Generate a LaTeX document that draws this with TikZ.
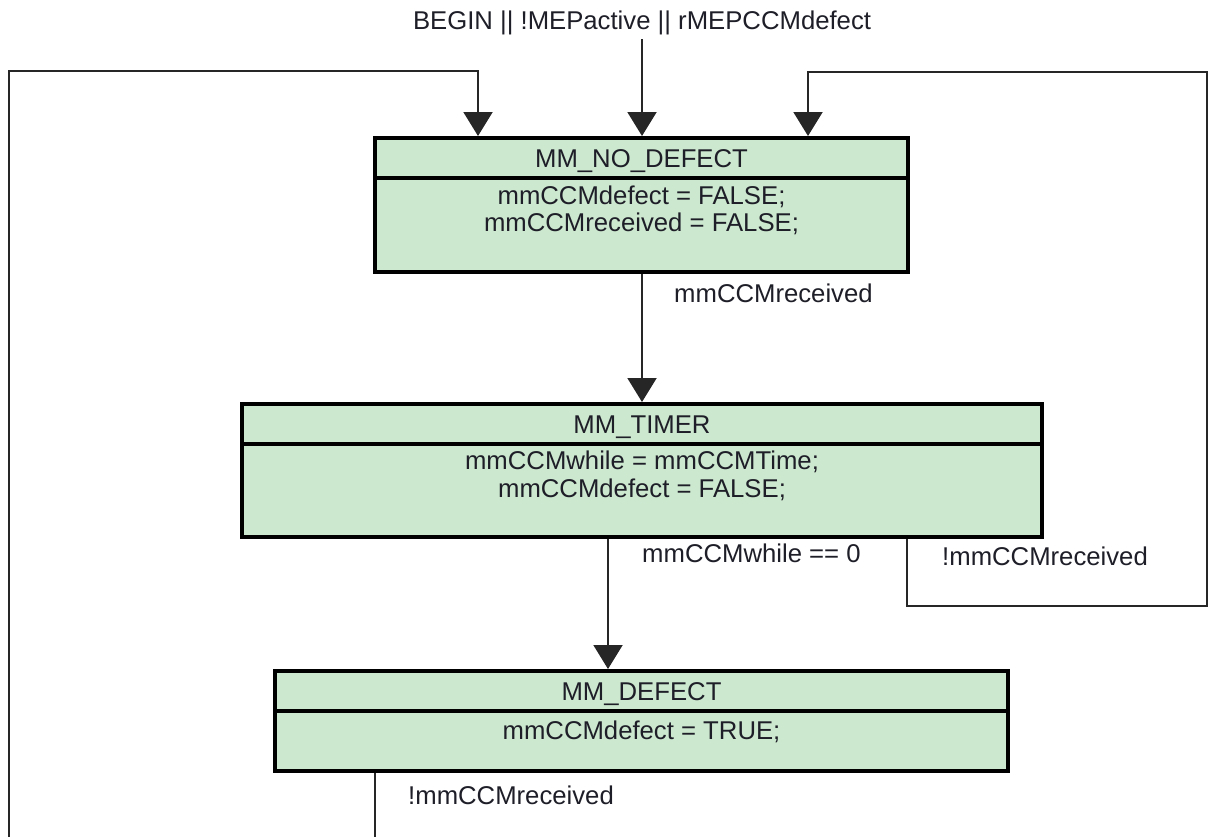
\documentclass[tikz,border=0pt]{standalone}
\usepackage{fontspec}
\setmainfont{Liberation Sans}
\usetikzlibrary{arrows.meta}
\definecolor{boxfill}{RGB}{204,232,206}
\definecolor{txt}{RGB}{30,30,40}
\begin{document}
\begin{tikzpicture}[x=1pt,y=-1pt,
  statebox/.style={draw=black, line width=4pt, fill=boxfill, inner sep=0pt, outer sep=2pt},
  divider/.style={draw=black, line width=4pt},
  lbl/.style={inner sep=0pt, anchor=base, text=txt, font=\fontsize{25.7}{28}\selectfont},
  lblw/.style={lbl, anchor=base west},
  conn/.style={draw=black!85, line width=2pt, line join=miter},
  arr/.style={conn, -{Triangle[width=29pt,length=24pt]}}]
\useasboundingbox (0,0) rectangle (1210,836);
\clip (0,0) rectangle (1210,836);

% state boxes
\node[statebox, minimum width=533pt, minimum height=134pt] (nd) at (641.5,205) {};
\node[statebox, minimum width=800pt, minimum height=133pt] (tm) at (642,470.5) {};
\node[statebox, minimum width=733pt, minimum height=100pt] (de) at (641.5,721) {};
\draw[divider] (375,178) -- (908,178);
\draw[divider] (242,444) -- (1042,444);
\draw[divider] (275,711) -- (1008,711);

% box texts
\node[lbl] (ndh) at (641.5,167) {MM\_NO\_DEFECT};
\node[lbl] (ndb1) at (641.5,204) {mmCCMdefect = FALSE;};
\node[lbl] (ndb2) at (641.5,231) {mmCCMreceived = FALSE;};
\node[lbl] (tmh) at (642,433) {MM\_TIMER};
\node[lbl] (tmb1) at (642,469) {mmCCMwhile = mmCCMTime;};
\node[lbl] (tmb2) at (642,497) {mmCCMdefect = FALSE;};
\node[lbl] (deh) at (641.5,700) {MM\_DEFECT};
\node[lbl] (deb) at (641.5,739) {mmCCMdefect = TRUE;};

% transition labels
\node[lbl] (init) at (642,29) {BEGIN || !MEPactive || rMEPCCMdefect};
\node[lblw] (l1) at (674,302) {mmCCMreceived};
\node[lblw] (l2) at (642,562) {mmCCMwhile == 0};
\node[lblw] (l3) at (942,565) {!mmCCMreceived};
\node[lblw] (l4) at (408,804) {!mmCCMreceived};

% helper coordinates
\coordinate (i0) at (642,39);
\coordinate (a) at (642,0);
\coordinate (b) at (608,0);
\coordinate (r0) at (907,0);
\coordinate (r1) at (907,606);
\coordinate (r2) at (1207,606);
\coordinate (r3) at (1207,72);
\coordinate (r4) at (808,72);
\coordinate (q0) at (375,0);
\coordinate (q1) at (375,860);
\coordinate (q2) at (9,860);
\coordinate (q3) at (9,71);
\coordinate (q4) at (478,71);

% connectors
\draw[arr] (i0) -- (i0 |- nd.north);
\draw[arr] (a |- nd.south) -- (a |- tm.north);
\draw[arr] (b |- tm.south) -- (b |- de.north);
\draw[arr] (r0 |- tm.south) -- (r1) -- (r2) -- (r3) -- (r4) -- (r4 |- nd.north);
\draw[arr] (q0 |- de.south) -- (q1) -- (q2) -- (q3) -- (q4) -- (q4 |- nd.north);
\end{tikzpicture}
\end{document}
